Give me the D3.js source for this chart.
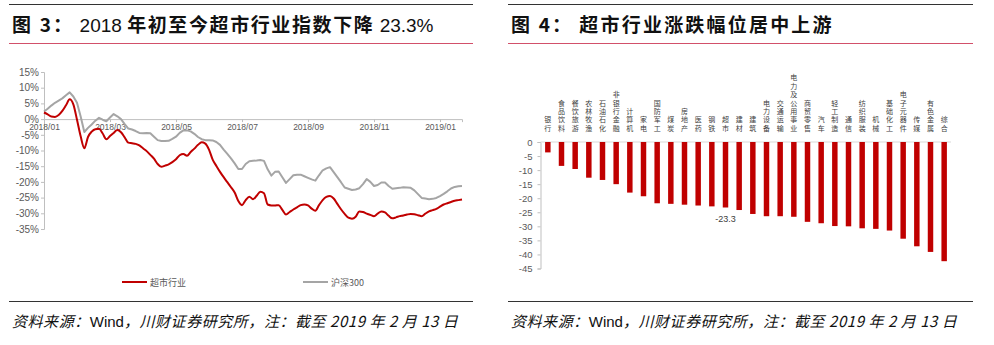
<!DOCTYPE html>
<html><head><meta charset="utf-8">
<script src="https://cdn.jsdelivr.net/npm/d3@7"></script>
<style>
html,body{margin:0;padding:0;background:#fff;}
svg{display:block;}
</style></head>
<body>
<svg id="c" width="994" height="345"></svg>
<script>
// ---------- Data: left chart (half-week samples, 2018/01/02 – 2019/02/13) ----------
const dateTickLabels = ["2018/01","2018/03","2018/05","2018/07","2018/09","2018/11","2019/01"];
const dateTickEvery = 18;
const supermarket = [2.1,1.5,0.8,0.7,1.3,2.6,4.4,6.3,4.7,-0.2,-5.5,-9.3,-5.7,-4.0,-3.2,-3.1,-4.6,-6.4,-5.4,-4.4,
  -3.5,-4.2,-5.8,-7.5,-7.7,-7.9,-8.4,-9.3,-10.2,-11.4,-12.6,-14.3,-15.2,-14.8,-14.4,-13.7,-12.8,-11.5,-11.1,-11.7,
  -10.5,-9.4,-8.2,-7.4,-7.8,-9.7,-12.9,-14.9,-16.8,-18.5,-20.1,-21.7,-23.4,-26.1,-27.4,-25.8,-24.7,-25.5,-24.4,-23.1,
  -23.6,-27.2,-27.5,-27.5,-27.4,-28.9,-30.4,-29.6,-28.8,-28.1,-27.4,-27.2,-27.5,-28.5,-29.2,-27.4,-25.8,-24.8,-24.5,-25.3,
  -27.0,-28.7,-30.2,-31.4,-31.7,-31.1,-29.4,-29.6,-30.1,-30.5,-30.9,-30.1,-29.4,-29.7,-30.8,-31.6,-31.3,-30.9,-30.7,-30.4,
  -30.2,-30.3,-30.6,-30.9,-30.1,-29.4,-29.0,-28.6,-27.9,-27.2,-26.8,-26.4,-26.0,-25.8,-25.6];
const hs300 = [2.4,3.3,4.3,5.2,5.9,6.6,7.6,8.5,7.2,5.2,0.8,-4.1,-2.8,-1.7,-0.5,0.4,-0.2,-0.7,0.5,1.6,
  0.9,0.0,-1.6,-3.0,-3.3,-3.8,-4.4,-4.5,-4.4,-4.5,-5.6,-6.7,-7.0,-7.0,-6.9,-6.3,-5.6,-4.4,-3.6,-3.6,
  -3.9,-4.7,-5.7,-6.4,-6.7,-6.7,-6.8,-7.3,-8.2,-9.7,-11.1,-12.5,-14.1,-15.9,-15.9,-14.3,-13.4,-13.3,-13.2,-13.0,
  -13.3,-16.0,-18.0,-16.8,-16.7,-18.5,-20.3,-19.1,-17.9,-17.7,-17.7,-18.2,-18.7,-19.2,-19.6,-17.9,-16.3,-15.7,-15.3,-16.9,
  -18.5,-20.1,-21.8,-22.2,-22.6,-22.4,-22.0,-20.7,-19.1,-20.0,-21.3,-21.0,-20.2,-20.2,-21.3,-22.2,-22.0,-21.9,-21.7,-21.8,
  -21.9,-22.7,-23.9,-25.1,-25.3,-25.5,-25.4,-25.1,-24.5,-23.8,-23.0,-22.1,-21.6,-21.4,-21.3];
const lineYTicks = [15,10,5,0,-5,-10,-15,-20,-25,-30,-35];
const lineSeriesNames = ["超市行业","沪深300"];

// ---------- Data: right chart ----------
const industries = ["银行","食品饮料","餐饮旅游","农林牧渔","石油石化","非银行金融","计算机","家电","国防军工","煤炭",
  "房地产","医药","钢铁","超市","建材","建筑","电力设备","交通运输","电力及公用事业","商贸零售",
  "汽车","轻工制造","通信","纺织服装","机械","基础化工","电子元器件","传媒","有色金属","综合"];
const industryChange = [-3.7,-8.5,-9.6,-12.7,-13.5,-15.0,-18.0,-19.3,-21.8,-22.0,
  -22.3,-22.6,-22.9,-23.3,-24.2,-25.6,-26.4,-26.4,-26.6,-28.4,
  -28.9,-29.9,-30.0,-30.7,-30.9,-31.5,-34.4,-37.1,-39.1,-42.4];
const barYTicks = [0,-5,-10,-15,-20,-25,-30,-35,-40,-45];
const highlighted = "超市";

const titles = ["图 3： 2018 年初至今超市行业指数下降 23.3%","图 4： 超市行业涨跌幅位居中上游"];
const sourceText = "资料来源：Wind，川财证券研究所，注：截至 2019 年 2 月 13 日";

// ---------- Drawing ----------
const svg = d3.select("#c");
const RED = "#c00000", GRAY = "#a5a5a5", AX = "#bfbfbf", TXT = "#595959";
const cjk = "'Noto Sans CJK SC', sans-serif";
const lat = "'Liberation Sans', Arial, sans-serif";

// frames
const panels = [{x0:9,x1:473,tx:12,ls:1.6},{x0:508,x1:973,tx:511,ls:2.2}];
panels.forEach((p,i)=>{
  svg.append("line").attr("x1",p.x0).attr("x2",p.x1).attr("y1",4.5).attr("y2",4.5).attr("stroke","#333").attr("stroke-width",1.2);
  svg.append("line").attr("x1",p.x0).attr("x2",p.x1).attr("y1",43.5).attr("y2",43.5).attr("stroke","#d2506a").attr("stroke-width",1);
  svg.append("line").attr("x1",p.x0).attr("x2",p.x1).attr("y1",301.5).attr("y2",301.5).attr("stroke","#333").attr("stroke-width",1.2);

  // title: "图 n：" bold, then digit runs in regular Latin font, CJK in bold
  const t = svg.append("text").attr("x",p.tx).attr("y",32).attr("fill","#111").attr("xml:space","preserve");
  const title = titles[i];
  const cut = title.indexOf("：")+1;
  t.append("tspan").attr("font-family",cjk).attr("font-weight","bold").attr("font-size",19)
    .attr("letter-spacing",2.2).text(title.slice(0,cut));
  const rest = title.slice(cut).trim().split(/([0-9.%]+)/).filter(s=>s.trim().length);
  rest.forEach((seg,k)=>{
    if (/^[0-9.%]+$/.test(seg)) {
      t.append("tspan").attr("font-family",lat).attr("font-size",19).attr("letter-spacing",0)
        .text(" "+seg+(k<rest.length-1?" ":""));
    } else {
      t.append("tspan").attr("font-family",cjk).attr("font-weight","bold").attr("font-size",19)
        .attr("letter-spacing",p.ls).attr("dx",k===0?6:0).text(seg.trim());
    }
  });

  // source line: "Wind" upright, rest italic
  const s = svg.append("text").attr("x",p.tx).attr("y",327).attr("fill","#111").attr("font-size",15)
    .attr("xml:space","preserve");
  sourceText.split(/(Wind)/).forEach(seg=>{
    if (seg==="Wind") s.append("tspan").attr("font-family",lat).attr("font-style","normal").text(seg);
    else s.append("tspan").attr("font-family",cjk).attr("font-style","italic").attr("letter-spacing",0.55).text(seg);
  });
});

// ---------- Left line chart ----------
const n = supermarket.length;
const xL = d3.scaleLinear().domain([0,n-1]).range([44,462]);
const yL = d3.scaleLinear().domain([-35,15]).range([229,72]);

const gyL = svg.append("g").attr("transform","translate(44,0)")
  .call(d3.axisLeft(yL).tickValues(lineYTicks).tickSize(3).tickFormat(d=>d+"%"));
gyL.select(".domain").attr("stroke",AX);
gyL.selectAll(".tick line").attr("stroke",AX);
gyL.selectAll("text").attr("font-family",lat).attr("font-size",10).attr("fill",TXT).attr("x",-5);

const tickIdx = dateTickLabels.map((_,i)=>i*dateTickEvery);
const gxL = svg.append("g").attr("transform",`translate(0,${yL(0)})`)
  .call(d3.axisBottom(xL).tickValues(tickIdx).tickSize(3).tickFormat((d,i)=>dateTickLabels[i]));
gxL.select(".domain").attr("stroke",AX);
gxL.selectAll(".tick line").attr("stroke",AX);
gxL.selectAll("text").attr("font-family",lat).attr("font-size",8.5).attr("fill",TXT).attr("dy","0.55em");

svg.append("path").datum(hs300).attr("fill","none").attr("stroke",GRAY).attr("stroke-width",2)
  .attr("stroke-linejoin","round")
  .attr("d",d3.line().x((d,i)=>xL(i)).y(d=>yL(d)));
svg.append("path").datum(supermarket).attr("fill","none").attr("stroke",RED).attr("stroke-width",2)
  .attr("stroke-linejoin","round")
  .attr("d",d3.line().x((d,i)=>xL(i)).y(d=>yL(d)).curve(d3.curveMonotoneX));

// legend
const legCols = [RED,GRAY];
const legX = d3.scalePoint().domain(lineSeriesNames).range([122,303]);
lineSeriesNames.forEach((nm,i)=>{
  const x = legX(nm);
  svg.append("line").attr("x1",x).attr("x2",x+25).attr("y1",282).attr("y2",282).attr("stroke",legCols[i]).attr("stroke-width",2);
  svg.append("text").attr("x",x+28).attr("y",285.5).attr("font-family",cjk).attr("font-size",9).attr("fill",TXT).text(nm);
});

// ---------- Right bar chart ----------
const xB = d3.scaleBand().domain(industries).range([541,951]).paddingInner(0.6).paddingOuter(0.3);
const yB = d3.scaleLinear().domain([-45,0]).range([268.5,142]);

const gyB = svg.append("g").attr("transform","translate(540.5,0)")
  .call(d3.axisLeft(yB).tickValues(barYTicks).tickSize(3).tickFormat(d=>d));
gyB.select(".domain").attr("stroke",AX);
gyB.selectAll(".tick line").attr("stroke",AX);
gyB.selectAll("text").attr("font-family",lat).attr("font-size",9.5).attr("fill",TXT).attr("x",-8);

svg.append("line").attr("x1",540.5).attr("x2",951).attr("y1",yB(0)).attr("y2",yB(0)).attr("stroke","#d9d9d9");

svg.selectAll("rect.bar").data(industries).enter().append("rect").attr("class","bar")
  .attr("x",d=>xB(d)).attr("width",xB.bandwidth())
  .attr("y",yB(0)).attr("height",(d,i)=>yB(industryChange[i])-yB(0)).attr("fill",RED);

// vertical category labels (one text per label, vertical writing mode)
svg.selectAll("text.cat").data(industries).enter().append("text").attr("class","cat")
  .attr("x",d=>xB(d)+xB.bandwidth()/2).attr("y",yB(0)-9)
  .attr("text-anchor","end")
  .style("writing-mode","vertical-rl").style("text-orientation","upright")
  .attr("font-family",cjk).attr("font-size",7).attr("letter-spacing",1.4).attr("fill","#404040")
  .text(d=>d);

// value label for highlighted
const hi = industries.indexOf(highlighted);
svg.append("text").attr("x",xB(highlighted)+xB.bandwidth()/2).attr("y",yB(industryChange[hi])+14.5)
  .attr("text-anchor","middle").attr("font-family",lat).attr("font-size",9).attr("fill","#404040")
  .text(industryChange[hi].toFixed(1));
</script>
</body></html>
